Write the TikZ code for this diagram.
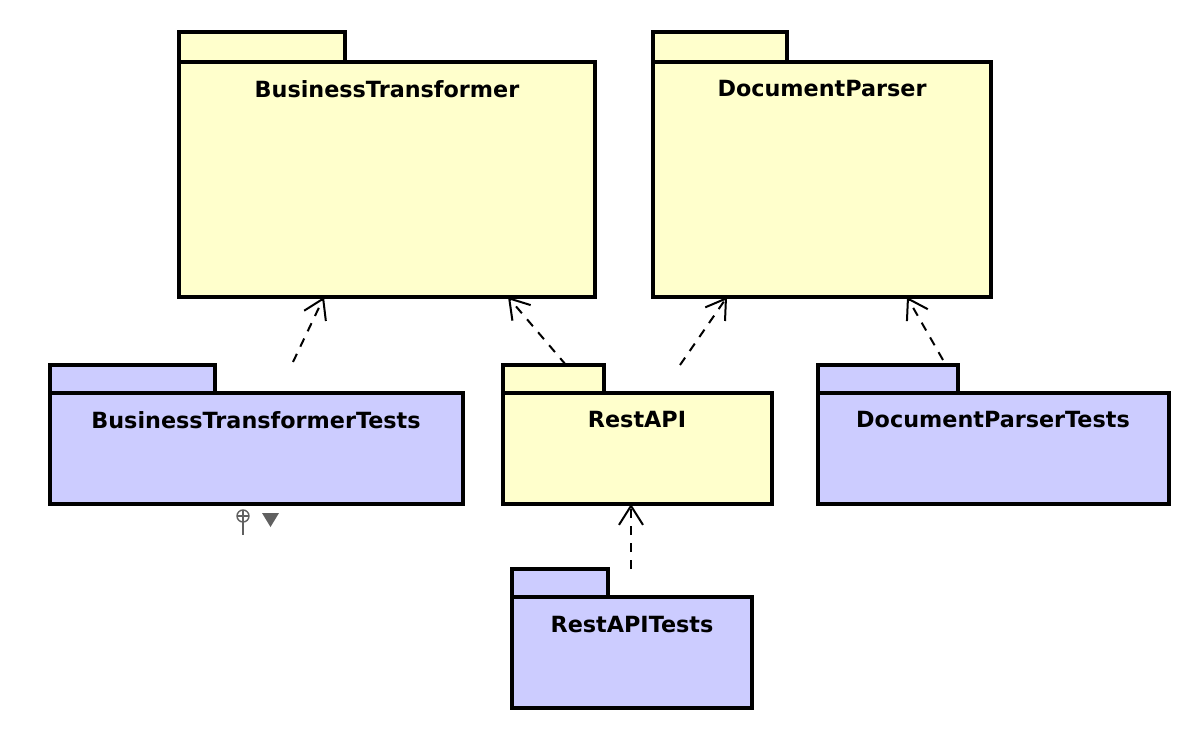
\documentclass[tikz,border=0pt]{standalone}
\usepackage{fontspec}
\setmainfont{DejaVu Sans}
\usetikzlibrary{arrows.meta}
\definecolor{pkgyellow}{HTML}{FFFFCC}
\definecolor{pkgblue}{HTML}{CCCCFF}
\definecolor{symgray}{HTML}{606060}
\tikzset{
  pkgline/.style={draw=black, line width=3.5pt},
  pkgtitle/.style={font=\fontsize{22.3}{25}\selectfont\bfseries, anchor=center, inner sep=0pt},
  dep/.style={draw=black, line width=2pt, dash pattern=on 9pt off 8pt, -{Straight Barb[length=19pt,width=24pt,line width=2pt]}},
}
\begin{document}
\begin{tikzpicture}[x=1pt,y=-1pt]
\useasboundingbox (0,0) rectangle (1198,752);
% BusinessTransformer
\path[pkgline, fill=pkgyellow] (179,32) rectangle (345,62);
\path[pkgline, fill=pkgyellow] (179,62) rectangle (595,297);
\node[pkgtitle] (bt) at (387,89) {BusinessTransformer};
\coordinate (btA) at (324,297);
\coordinate (btB) at (508,297);
% DocumentParser
\path[pkgline, fill=pkgyellow] (653,32) rectangle (787,62);
\path[pkgline, fill=pkgyellow] (653,62) rectangle (991,297);
\node[pkgtitle] (dp) at (822,89) {DocumentParser};
\coordinate (dpA) at (727,297);
\coordinate (dpB) at (907,297);
% BusinessTransformerTests
\path[pkgline, fill=pkgblue] (50,365) rectangle (215,393);
\path[pkgline, fill=pkgblue] (50,393) rectangle (463,504);
\node[pkgtitle] (btt) at (256,420) {BusinessTransformerTests};
\coordinate (bttS) at (293,362);
% RestAPI
\path[pkgline, fill=pkgyellow] (503,365) rectangle (604,393);
\path[pkgline, fill=pkgyellow] (503,393) rectangle (772,504);
\node[pkgtitle] (ra) at (637,420) {RestAPI};
\coordinate (raA) at (566,365);
\coordinate (raB) at (680,365);
\coordinate (raC) at (631,504);
% DocumentParserTests
\path[pkgline, fill=pkgblue] (818,365) rectangle (958,393);
\path[pkgline, fill=pkgblue] (818,393) rectangle (1169,504);
\node[pkgtitle] (dpt) at (993,420) {DocumentParserTests};
\coordinate (dptS) at (943,360);
% RestAPITests
\path[pkgline, fill=pkgblue] (512,569) rectangle (608,597);
\path[pkgline, fill=pkgblue] (512,597) rectangle (752,708);
\node[pkgtitle] (rat) at (632,625) {RestAPITests};
\coordinate (ratS) at (631,569);
% dependencies
\draw[dep] (bttS) -- (btA);
\draw[dep] (raA) -- (btB);
\draw[dep] (raB) -- (dpA);
\draw[dep] (dptS) -- (dpB);
\draw[dep] (ratS) -- (raC);
% symbols
\draw[symgray, line width=1.4pt] (243,516) circle (6);
\draw[symgray, line width=1.4pt] (237,516) -- (249,516) (243,510) -- (243,535);
\fill[symgray] (262,513) -- (279,513) -- (270.5,527) -- cycle;
\end{tikzpicture}
\end{document}
